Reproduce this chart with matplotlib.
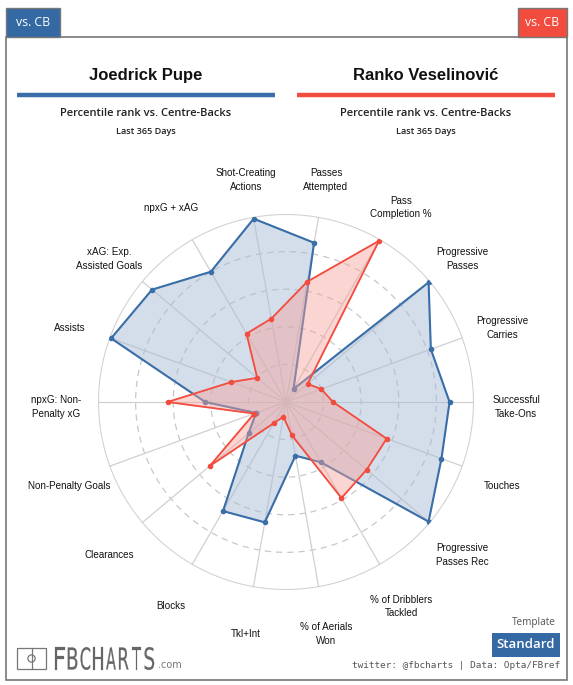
import numpy as np
import matplotlib
matplotlib.use("Agg")
import matplotlib.pyplot as plt
from matplotlib.patches import Rectangle, Circle, PathPatch
from matplotlib.textpath import TextPath
from matplotlib.font_manager import FontProperties
from matplotlib.transforms import Affine2D, offset_copy

# ---------------- data ----------------
categories = ["Non-Penalty Goals", "npxG: Non-\nPenalty xG", "Assists", "xAG: Exp.\nAssisted Goals",
              "npxG + xAG", "Shot-Creating\nActions", "Passes\nAttempted", "Pass\nCompletion %",
              "Progressive\nPasses", "Progressive\nCarries", "Successful\nTake-Ons", "Touches",
              "Progressive\nPasses Rec", "% of Dribblers\nTackled", "% of Aerials\nWon", "Tkl+Int",
              "Blocks", "Clearances"]
player_a = "Joedrick Pupe"
player_b = "Ranko Veselinović"
values_a = [17, 43, 99, 93, 80, 99, 86, 8, 99, 82, 87, 88, 99, 37, 29, 65, 67, 26]
values_b = [18, 63, 31, 20, 42, 45, 65, 99, 15, 20, 25, 57, 56, 59, 18, 8, 13, 53]
subtitle = "Percentile rank vs. Centre-Backs"
period = "Last 365 Days"

BLUE = "#3a6ea8"
RED = "#f24c3f"
W, H = 573, 685
fig = plt.figure(figsize=(W / 100, H / 100), dpi=100)

# overlay axes in pixel coordinates
ov = fig.add_axes([0, 0, 1, 1])
ov.set_xlim(0, W)
ov.set_ylim(H, 0)
ov.axis("off")
ov.patch.set_alpha(0)

# frame
ov.add_patch(Rectangle((6, 37), 561, 643, fill=False, ec="#777777", lw=1.2))
# tabs
ov.add_patch(Rectangle((6, 8), 54, 29, fc="#3469a3", ec="#777777", lw=1.0))
ov.text(33, 22.5, "vs. CB", color="white", fontsize=8.8, ha="center", va="center", family="Open Sans")
ov.add_patch(Rectangle((518, 8), 49, 29, fc=RED, ec="#777777", lw=1.0))
ov.text(542.5, 22.5, "vs. CB", color="white", fontsize=8.8, ha="center", va="center", family="Open Sans")

# names and headers
for cx, name, col in [(146, player_a, BLUE), (426, player_b, RED)]:
    ov.text(cx, 75, name, fontsize=12, fontweight="bold", ha="center", va="center",
            family="Liberation Sans", color="#111111")
    ov.plot([cx - 129, cx + 129], [95, 95], color=col, lw=3.2, solid_capstyle="butt")
    ov.text(cx, 113, subtitle, fontsize=8.0, fontweight="semibold", ha="center", va="center",
            family="Open Sans", color="#222222")
    ov.text(cx, 131, period, fontsize=6.6, fontweight="semibold", ha="center", va="center",
            family="Open Sans", color="#222222")

# logo
ov.add_patch(Rectangle((17, 648), 29, 21, fill=False, ec="#777777", lw=0.9))
ov.plot([31.5, 31.5], [648, 669], color="#777777", lw=0.9)
ov.add_patch(Circle((31.5, 658.5), 3.6, fill=False, ec="#777777", lw=0.9))
fp = FontProperties(family="DejaVu Sans", weight="normal")
for i, ch in enumerate("FBCHARTS"):
    tp = TextPath((0, 0), ch, size=10, prop=fp)
    bb = tp.get_extents()
    sx, sy = 9.5 / max(bb.width, 1), 22.0 / 7.29
    x0 = 55 + i * 12.8
    tr = Affine2D().translate(-bb.x0, 0).scale(sx, -sy).translate(x0, 669.5)
    ov.add_patch(PathPatch(tr.transform_path(tp), fc="#666666", ec="#666666", lw=0.15))
ov.text(158, 665.5, ".com", fontsize=7, ha="left", va="center", family="DejaVu Sans", color="#777777")

# template / standard
ov.text(556, 622, "Template", fontsize=7.2, ha="right", va="center", family="Open Sans", color="#555555")
ov.add_patch(Rectangle((492, 633), 68, 24, fc="#3469a3", ec="none"))
ov.text(526, 645, "Standard", fontsize=9.5, ha="center", va="center", family="Open Sans",
        fontweight="semibold", color="white")
ov.text(560, 666, "twitter: @fbcharts | Data: Opta/FBref", fontsize=6.75, ha="right", va="center",
        family="DejaVu Sans Mono", color="#555555")

# ---------------- radar ----------------
cx, cy, R = 286, 402, 188
ax = fig.add_axes([(cx - R) / W, (H - cy - R) / H, 2 * R / W, 2 * R / H], projection="polar")
ax.patch.set_alpha(0)
n = len(categories)
theta = np.deg2rad(np.arange(n) * 360 / n)
ax.set_theta_offset(np.deg2rad(200))
ax.set_theta_direction(-1)
ax.set_ylim(0, 100)
ax.grid(False)
ax.set_xticks([])
ax.set_yticks([])
ax.spines["polar"].set_visible(False)

tt = np.linspace(0, 2 * np.pi, 400)
for r in [20, 40, 60, 80]:
    ax.plot(tt, np.full_like(tt, r), color="#c8c8c8", lw=0.9, ls=(0, (5, 4)), zorder=1)
ax.plot(tt, np.full_like(tt, 100), color="#d0d0d0", lw=1.5, zorder=1)
for t in theta:
    ax.plot([t, t], [0, 100], color="#d0d0d0", lw=0.9, zorder=1)

ta = np.append(theta, theta[0])
va = np.append(values_a, values_a[0])
vb = np.append(values_b, values_b[0])
ax.fill(ta, va, color="#a9bed6", alpha=0.5, zorder=2)
ax.plot(ta, va, color=BLUE, lw=1.5, zorder=3, marker="o", ms=3)
ax.fill(ta, vb, color="#f5a29b", alpha=0.45, zorder=4)
ax.plot(ta, vb, color=RED, lw=1.3, zorder=5, marker="o", ms=3)

lab_tr = offset_copy(ax.transData, fig=fig, x=0, y=-5, units="dots")
for t, lab in zip(theta, categories):
    ax.text(t, 122.5, lab, ha="center", va="center", fontsize=7.1, family="Liberation Sans",
            color="#111111", linespacing=1.45, transform=lab_tr, clip_on=False)

fig.savefig("out.png", dpi=100)
